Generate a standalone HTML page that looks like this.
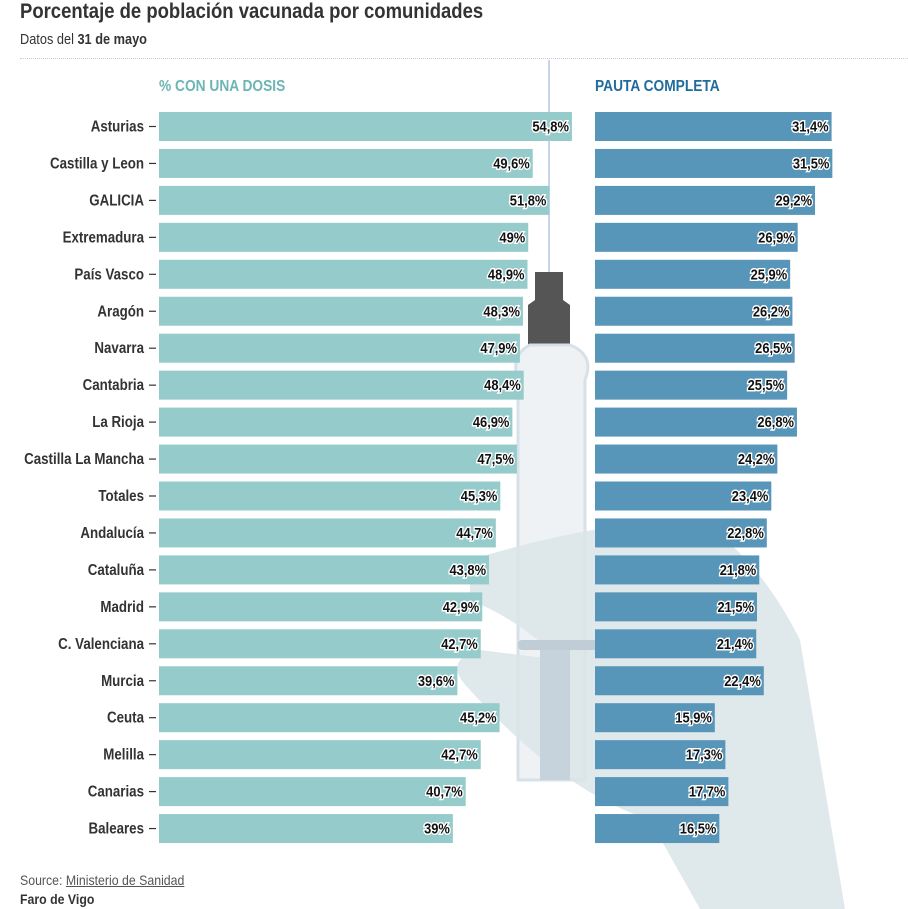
<!DOCTYPE html>
<html><head><meta charset="utf-8">
<style>
body{margin:0;background:#fff;width:908px;height:909px;overflow:hidden;font-family:"Liberation Sans",sans-serif;}
.t{position:absolute;white-space:nowrap;transform:scaleX(0.88);transform-origin:0 0}
</style></head><body>
<svg id="bg" width="908" height="909" style="position:absolute;left:0;top:0">
 <line x1="549" y1="60" x2="549" y2="275" stroke="#c8d3ee" stroke-width="2"/>
 <path d="M535 272 h28 v28 l7 5 v40 h-42 v-40 l7 -5z" fill="#555"/>
 <path d="M530 345 Q510 355 518 380 L518 780 L585 780 L585 380 Q595 355 570 345 Z" fill="#eef2f4" stroke="#d8e0e8" stroke-width="3"/>
 <path d="M470 560 Q600 520 700 520 Q760 560 800 640 L845 909 L700 909 L650 820 Q560 790 470 690 Q440 660 480 650 L560 660 Q520 620 470 600 Z" fill="#dbe6e8" opacity="0.9"/>
 <rect x="518" y="640" width="110" height="10" fill="#c0ccd6" rx="4"/>
 <rect x="540" y="650" width="30" height="130" fill="#c6d2dc"/>
</svg>
<div class="t" style="left:20px;top:0px;font-size:21px;font-weight:bold;color:#333">Porcentaje de población vacunada por comunidades</div>
<div class="t" style="left:20px;top:32px;font-size:14.5px;color:#333">Datos del <b>31 de mayo</b></div>
<div style="position:absolute;left:20px;top:58px;width:888px;border-top:1px dotted #ccc"></div>
<svg id="chart" width="908" height="909" style="position:absolute;left:0;top:0"></svg>
<div class="t" style="left:20px;top:872px;font-size:14px;color:#555">Source: <span style="text-decoration:underline">Ministerio de Sanidad</span></div>
<div class="t" style="left:20px;top:891px;font-size:14px;font-weight:bold;color:#333">Faro de Vigo</div>
<script>
const categories=["Asturias","Castilla y Leon","GALICIA","Extremadura","País Vasco","Aragón","Navarra","Cantabria","La Rioja","Castilla La Mancha","Totales","Andalucía","Cataluña","Madrid","C. Valenciana","Murcia ","Ceuta","Melilla","Canarias","Baleares"];
const oneDose=[54.8,49.6,51.8,49,48.9,48.3,47.9,48.4,46.9,47.5,45.3,44.7,43.8,42.9,42.7,39.6,45.2,42.7,40.7,39];
const fullDose=[31.4,31.5,29.2,26.9,25.9,26.2,26.5,25.5,26.8,24.2,23.4,22.8,21.8,21.5,21.4,22.4,15.9,17.3,17.7,16.5];
const svg=document.getElementById('chart');const NS='http://www.w3.org/2000/svg';
const k=7.535;const x0L=159,x0R=595;
const yRow=i=>112+i*36.95;const bh=29;const SX=0.86;
function mk(tag,a){const e=document.createElementNS(NS,tag);for(const n in a)e.setAttribute(n,a[n]);svg.appendChild(e);return e;}
function txt(x,y,a){a.x=0;a.y=0;a['font-family']='Liberation Sans, sans-serif';a.transform='translate('+x+','+y+') scale('+SX+',1)';return mk('text',a);}
function fmt(v){return String(v).replace('.',',')+'%';}
let h=txt(159,91,{'font-size':16,'font-weight':'bold',fill:'#6cb5b5'});h.textContent='% CON UNA DOSIS';

h=txt(595,91,{'font-size':16,'font-weight':'bold',fill:'#1f6c9c'});h.textContent='PAUTA COMPLETA';

categories.forEach((c,i)=>{
 const y=yRow(i);
 let t=txt(144,y+bh/2+5,{'text-anchor':'end','font-size':15.5,'font-weight':'bold',fill:'#333'});t.textContent=c;
 
 let tk=mk('line',{x1:149,x2:156,y1:y+bh/2,y2:y+bh/2,stroke:'#333','stroke-width':1.2});
 
 [[oneDose,x0L,'#96cbcb','bar-one-dose'],[fullDose,x0R,'#5795b9','bar-full-dose']].forEach(([arr,x0,col,nm])=>{
  const w=arr[i]*k;
  let r=mk('rect',{x:x0,y:y,width:w,height:bh,fill:col});
  
  let v=txt(x0+w-3,y+bh/2+5,{'text-anchor':'end','font-size':15,'font-weight':'bold',fill:'#111',stroke:'#fff','stroke-width':3,'paint-order':'stroke'});
  v.textContent=fmt(arr[i]);
  
 });
});
</script>
</body></html>
